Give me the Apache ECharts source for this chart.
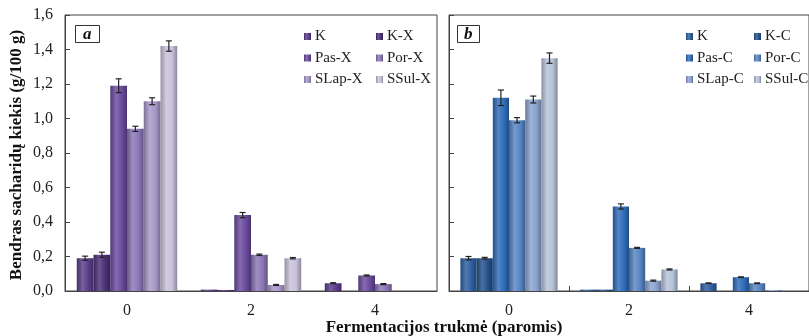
<!DOCTYPE html>
<html>
<head>
<meta charset="utf-8">
<script src="https://cdn.jsdelivr.net/npm/echarts@6/dist/echarts.min.js"></script>
<style>html,body{margin:0;padding:0;background:#fff}#c{width:809px;height:336px}</style>
</head>
<body>
<div id="c"></div>
<script>
const categories = ['0', '2', '4'];
const yTicks = ['0,0','0,2','0,4','0,6','0,8','1,0','1,2','1,4','1,6'];

const namesA = ['K', 'K-X', 'Pas-X', 'Por-X', 'SLap-X', 'SSul-X'];
const valK_A    = [0.19, 0.008, 0.045];
const valKX     = [0.21, 0.006, 0];
const valPasX   = [1.19, 0.44, 0.09];
const valPorX   = [0.94, 0.21, 0.04];
const valSLapX  = [1.10, 0.035, 0];
const valSSulX  = [1.42, 0.19, 0];
const errK_A    = [0.012, 0, 0.003];
const errKX     = [0.015, 0, 0];
const errPasX   = [0.04, 0.015, 0.003];
const errPorX   = [0.015, 0.004, 0.003];
const errSLapX  = [0.02, 0.003, 0];
const errSSulX  = [0.03, 0.004, 0];

const namesB = ['K', 'K-C', 'Pas-C', 'Por-C', 'SLap-C', 'SSul-C'];
const valK_B    = [0.19, 0.008, 0.045];
const valKC     = [0.19, 0.008, 0];
const valPasC   = [1.12, 0.49, 0.08];
const valPorC   = [0.99, 0.25, 0.045];
const valSLapC  = [1.11, 0.06, 0.006];
const valSSulC  = [1.35, 0.125, 0];
const errK_B    = [0.01, 0, 0.002];
const errKC     = [0.005, 0, 0];
const errPasC   = [0.045, 0.015, 0.002];
const errPorC   = [0.015, 0.003, 0.002];
const errSLapC  = [0.02, 0.003, 0];
const errSSulC  = [0.03, 0.003, 0];

const colorsA = ['#5a3d8a', '#4b3176', '#6a4a9e', '#8b76b6', '#a797c8', '#c8c1db'];
const colorsB = ['#2c5fa0', '#24518c', '#2f6cb9', '#5785c4', '#8aa3cd', '#b6c2d9'];

const valsA = [valK_A, valKX, valPasX, valPorX, valSLapX, valSSulX];
const errsA = [errK_A, errKX, errPasX, errPorX, errSLapX, errSSulX];
const valsB = [valK_B, valKC, valPasC, valPorC, valSLapC, valSSulC];
const errsB = [errK_B, errKC, errPasC, errPorC, errSLapC, errSSulC];

function hex2rgb(h){h=h.replace('#','');return [parseInt(h.substr(0,2),16),parseInt(h.substr(2,2),16),parseInt(h.substr(4,2),16)];}
function mix(h, t, f){const a=hex2rgb(h);const b=t==='w'?[255,255,255]:[0,0,0];return 'rgb('+a.map((v,i)=>Math.round(v+(b[i]-v)*f)).join(',')+')';}
function grad(c){
  return new echarts.graphic.LinearGradient(0,0,1,0,[
    {offset:0,color:mix(c,'k',0.25)},
    {offset:0.35,color:mix(c,'w',0.18)},
    {offset:0.7,color:c},
    {offset:1,color:mix(c,'k',0.3)}
  ]);
}

const FONT = 'Liberation Serif';
const GAP = 0.19;

function barSeries(prefix, names, vals, colors, idx){
  return names.map((n,i)=>({
    name: prefix + n,
    type: 'bar',
    xAxisIndex: idx, yAxisIndex: idx,
    barGap: '0%',
    barCategoryGap: (GAP*100)+'%',
    data: vals[i],
    itemStyle: {color: grad(colors[i])},
    emphasis: {disabled: true},
    z: 2
  }));
}

function errSeries(vals, errs, idx){
  const data = [];
  for (let s=0; s<vals.length; s++)
    for (let c=0; c<categories.length; c++)
      if (vals[s][c] > 0 && errs[s][c] > 0) data.push([c, vals[s][c], errs[s][c], s]);
  return {
    type: 'custom',
    xAxisIndex: idx, yAxisIndex: idx,
    data: data,
    z: 5,
    silent: true,
    renderItem: function(params, api){
      const c = api.value(0), v = api.value(1), e = api.value(2), s = api.value(3);
      const catW = api.size([1,0])[0];
      const bw = catW*(1-GAP)/6;
      const center = api.coord([c, v]);
      const x = center[0] + (s-2.5)*bw;
      const yTop = api.coord([c, v+e])[1];
      const yBot = api.coord([c, v-e])[1];
      const cap = 3;
      const st = {stroke:'#222', lineWidth:1.2};
      return {type:'group', children:[
        {type:'line', shape:{x1:x,y1:yTop,x2:x,y2:yBot}, style:st},
        {type:'line', shape:{x1:x-cap,y1:yTop,x2:x+cap,y2:yTop}, style:st},
        {type:'line', shape:{x1:x-cap,y1:yBot,x2:x+cap,y2:yBot}, style:st}
      ]};
    }
  };
}

function legendCol(prefix, names, left){
  return {
    data: names.map(n=>prefix+n),
    orient: 'vertical',
    left: left, top: 24,
    itemWidth: 7, itemHeight: 7,
    itemGap: 6.5,
    icon: 'rect',
    selectedMode: false,
    formatter: function(n){return n.slice(prefix.length);},
    textStyle: {fontFamily: FONT, fontSize: 15, color: '#222', padding:[0,0,0,-1]}
  };
}

const yAxisCommon = {
  type: 'value', min: 0, max: 1.6, interval: 0.2,
  axisLine: {show: true, lineStyle: {color: '#444', width: 1}},
  axisTick: {show: true, inside: true, length: 5, lineStyle: {color: '#444'}},
  splitLine: {show: false}
};

const chart = echarts.init(document.getElementById('c'), null, {renderer: 'canvas'});
chart.setOption({
  animation: false,
  backgroundColor: '#fff',
  grid: [
    {left: 65, top: 15, width: 372, height: 276, show: true, borderColor: '#444', borderWidth: 1},
    {left: 449, top: 15, width: 366, height: 276, show: true, borderColor: '#444', borderWidth: 1}
  ],
  title: [
    {text: 'a', left: 75, top: 25, padding: [1, 8, 0, 8], borderWidth: 1, borderColor: '#333',
     textStyle: {fontFamily: FONT, fontSize: 17, fontStyle: 'italic', fontWeight: 'bold', color: '#111'}},
    {text: 'b', left: 457, top: 25, padding: [1, 7, 0, 7], borderWidth: 1, borderColor: '#333',
     textStyle: {fontFamily: FONT, fontSize: 17, fontStyle: 'italic', fontWeight: 'bold', color: '#111'}}
  ],
  legend: [
    legendCol('a:', [namesA[0], namesA[2], namesA[4]], 299),
    legendCol('a:', [namesA[1], namesA[3], namesA[5]], 371),
    legendCol('b:', [namesB[0], namesB[2], namesB[4]], 681),
    legendCol('b:', [namesB[1], namesB[3], namesB[5]], 749)
  ],
  xAxis: [
    {type: 'category', gridIndex: 0, data: categories,
     axisLine: {lineStyle: {color: '#444'}},
     axisTick: {show: false},
     axisLabel: {fontFamily: FONT, fontSize: 16, color: '#222', margin: 12}},
    {type: 'category', gridIndex: 1, data: categories,
     axisLine: {lineStyle: {color: '#444'}},
     axisTick: {show: true, inside: true, length: 5, lineStyle: {color: '#444'}},
     axisLabel: {fontFamily: FONT, fontSize: 16, color: '#222', margin: 12}}
  ],
  yAxis: [
    Object.assign({gridIndex: 0, axisLabel: {fontFamily: FONT, fontSize: 16, color: '#222', margin: 12,
      formatter: function(v){return yTicks[Math.round(v/0.2)];}}}, yAxisCommon),
    Object.assign({gridIndex: 1, axisLabel: {show: false}}, yAxisCommon)
  ],
  graphic: [
    {type: 'text', x: 17, y: 155, rotation: Math.PI/2,
     style: {text: 'Bendras sacharidų kiekis (g/100 g)', fontFamily: FONT, fontSize: 17, fontWeight: 'bold',
       fill: '#111', align: 'center', verticalAlign: 'middle'}},
    {type: 'text', x: 444, y: 328,
     style: {text: 'Fermentacijos trukmė (paromis)', fontFamily: FONT, fontSize: 17, fontWeight: 'bold',
       fill: '#111', align: 'center', verticalAlign: 'middle'}}
  ],
  series: [].concat(
    barSeries('a:', namesA, valsA, colorsA, 0),
    barSeries('b:', namesB, valsB, colorsB, 1),
    [errSeries(valsA, errsA, 0), errSeries(valsB, errsB, 1)]
  )
});
</script>
</body>
</html>
